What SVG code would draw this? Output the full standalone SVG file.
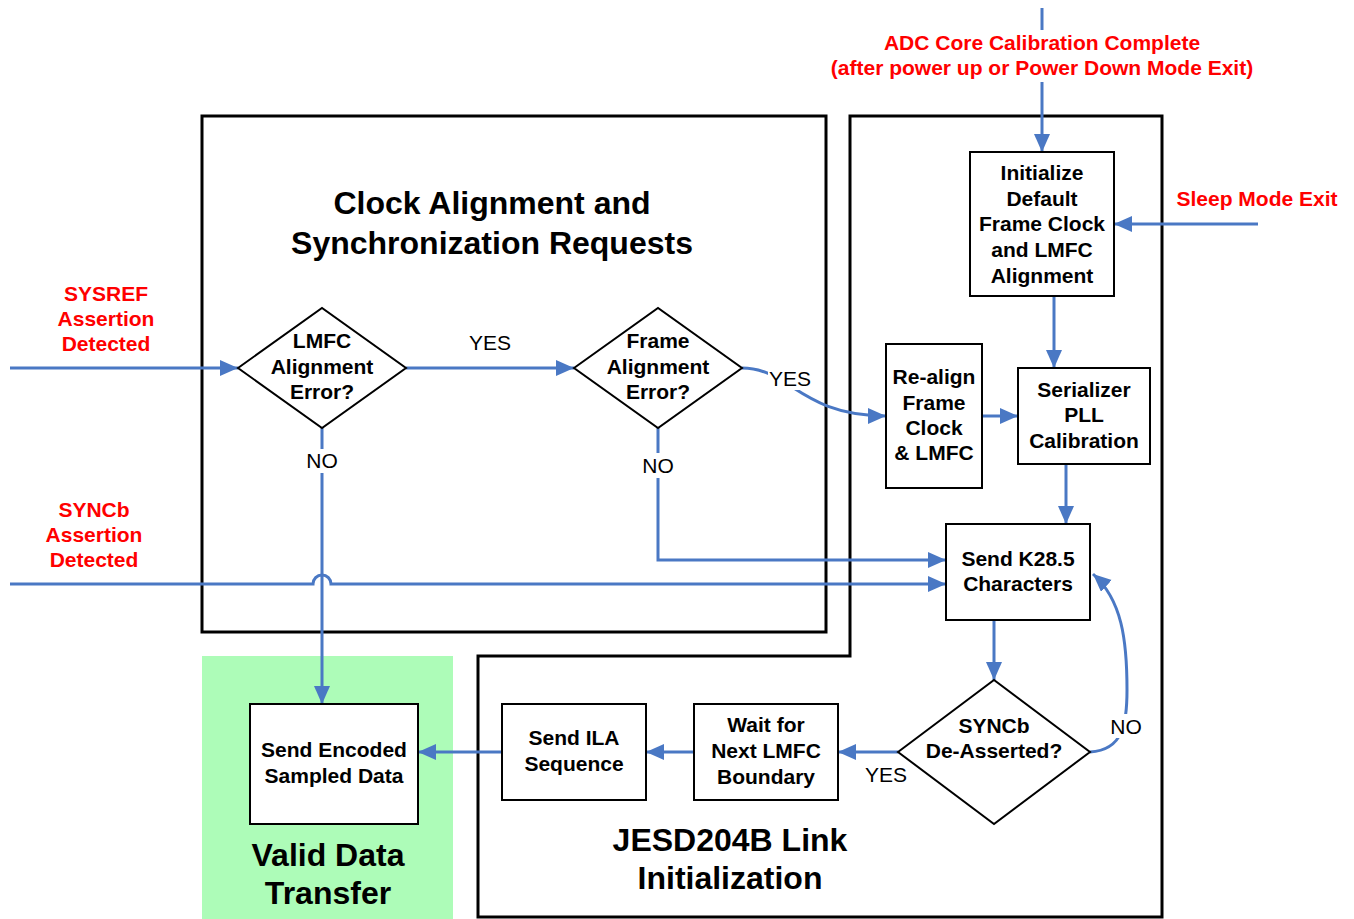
<svg xmlns="http://www.w3.org/2000/svg" width="1354" height="919" viewBox="0 0 1354 919">
<style>
.t{font-family:"Liberation Sans",Arial,sans-serif;font-weight:bold;font-size:21px;fill:#000;text-anchor:middle}
.r{font-family:"Liberation Sans",Arial,sans-serif;font-weight:bold;font-size:21px;fill:#ff0000;text-anchor:middle}
.h{font-family:"Liberation Sans",Arial,sans-serif;font-weight:bold;font-size:32px;fill:#000;text-anchor:middle}
.l{font-family:"Liberation Sans",Arial,sans-serif;font-size:21px;fill:#000;text-anchor:middle}
.box{fill:#fff;stroke:#000;stroke-width:2}
.big{fill:none;stroke:#000;stroke-width:3}
.c{fill:none;stroke:#4a78c4;stroke-width:3}
.ca{fill:none;stroke:#4a78c4;stroke-width:3;marker-end:url(#ah)}
</style>
<defs>
<marker id="ah" markerUnits="userSpaceOnUse" markerWidth="20" markerHeight="18" refX="18" refY="8" orient="auto">
<path d="M0,0 L18,8 L0,16 Z" fill="#4a78c4"/>
</marker>
</defs>
<rect width="1354" height="919" fill="#fff"/>
<g id="valid-data-area">
<rect x="202" y="656" width="251" height="263" fill="#adfcb8"/>
<text class="h" x="328" y="866">Valid Data</text>
<text class="h" x="328" y="904">Transfer</text>
</g>
<g id="clock-alignment-area">
<rect class="big" x="202" y="116" width="624" height="516"/>
<text class="h" x="492" y="214">Clock Alignment and</text>
<text class="h" x="492" y="254">Synchronization Requests</text>
</g>
<g id="jesd-area">
<path class="big" d="M850,116 H1162 V917 H478 V656 H850 Z"/>
<text class="h" x="730" y="851">JESD204B Link</text>
<text class="h" x="730" y="889">Initialization</text>
</g>
<g id="connectors">
<path class="ca" d="M10,368 H238"/>
<path class="ca" d="M406,368 H574"/>
<path class="ca" d="M322,428 V704"/>
<path class="ca" d="M658,428 V560 H946"/>
<path class="ca" d="M10,584 H313 A9,9 0 0 1 331,584 H946"/>
<path class="ca" d="M742,368 C790,368 800,416 886,416"/>
<path class="ca" d="M982,416 H1018"/>
<path class="ca" d="M1054,296 V368"/>
<path class="ca" d="M1066,464 V524"/>
<path class="c" d="M1042,8 V30"/>
<path class="ca" d="M1042,82 V152"/>
<path class="ca" d="M1258,224 H1114"/>
<path class="ca" d="M994,620 V680"/>
<path class="ca" d="M898,752 H838"/>
<path class="ca" d="M694,752 H646"/>
<path class="ca" d="M502,752 H418"/>
<path class="ca" d="M1090,752 C1124,750 1127,722 1127,690 C1127,640 1122,600 1093,574"/>
</g>
<g id="connector-labels">
<text class="l" x="490" y="350">YES</text>
<rect x="768" y="366" width="44" height="24" fill="#fff"/>
<text class="l" x="790" y="386">YES</text>
<rect x="304" y="449" width="36" height="24" fill="#fff"/>
<text class="l" x="322" y="468">NO</text>
<rect x="640" y="453" width="36" height="25" fill="#fff"/>
<text class="l" x="658" y="473">NO</text>
<text class="l" x="886" y="782">YES</text>
<rect x="1110" y="714" width="34" height="24" fill="#fff"/>
<text class="l" x="1126" y="734">NO</text>
</g>
<g id="inputs">
<text class="r" x="1042" y="50">ADC Core Calibration Complete</text>
<text class="r" x="1042" y="75">(after power up or Power Down Mode Exit)</text>
<text class="r" x="1257" y="206">Sleep Mode Exit</text>
<text class="r" x="106" y="301">SYSREF</text>
<text class="r" x="106" y="326">Assertion</text>
<text class="r" x="106" y="351">Detected</text>
<text class="r" x="94" y="517">SYNCb</text>
<text class="r" x="94" y="542">Assertion</text>
<text class="r" x="94" y="567">Detected</text>
</g>
<g id="initialize">
<rect class="box" x="970" y="152" width="144" height="144"/>
<text class="t" x="1042" y="180">Initialize</text>
<text class="t" x="1042" y="206">Default</text>
<text class="t" x="1042" y="231">Frame Clock</text>
<text class="t" x="1042" y="257">and LMFC</text>
<text class="t" x="1042" y="283">Alignment</text>
</g>
<g id="lmfc-decision">
<path class="box" d="M238,368 L322,308 L406,368 L322,428 Z" stroke-width="1.5"/>
<text class="t" x="322" y="348">LMFC</text>
<text class="t" x="322" y="374">Alignment</text>
<text class="t" x="322" y="399">Error?</text>
</g>
<g id="frame-decision">
<path class="box" d="M574,368 L658,308 L742,368 L658,428 Z" stroke-width="1.5"/>
<text class="t" x="658" y="348">Frame</text>
<text class="t" x="658" y="374">Alignment</text>
<text class="t" x="658" y="399">Error?</text>
</g>
<g id="realign">
<rect class="box" x="886" y="344" width="96" height="144"/>
<text class="t" x="934" y="384">Re-align</text>
<text class="t" x="934" y="410">Frame</text>
<text class="t" x="934" y="435">Clock</text>
<text class="t" x="934" y="460">&amp; LMFC</text>
</g>
<g id="serializer">
<rect class="box" x="1018" y="368" width="132" height="96"/>
<text class="t" x="1084" y="397">Serializer</text>
<text class="t" x="1084" y="422">PLL</text>
<text class="t" x="1084" y="448">Calibration</text>
</g>
<g id="send-k285">
<rect class="box" x="946" y="524" width="144" height="96"/>
<text class="t" x="1018" y="566">Send K28.5</text>
<text class="t" x="1018" y="591">Characters</text>
</g>
<g id="syncb-decision">
<path class="box" d="M898,752 L994,680 L1090,752 L994,824 Z" stroke-width="1.5"/>
<text class="t" x="994" y="733">SYNCb</text>
<text class="t" x="994" y="758">De-Asserted?</text>
</g>
<g id="wait-lmfc">
<rect class="box" x="694" y="704" width="144" height="96"/>
<text class="t" x="766" y="732">Wait for</text>
<text class="t" x="766" y="758">Next LMFC</text>
<text class="t" x="766" y="784">Boundary</text>
</g>
<g id="send-ila">
<rect class="box" x="502" y="704" width="144" height="96"/>
<text class="t" x="574" y="745">Send ILA</text>
<text class="t" x="574" y="771">Sequence</text>
</g>
<g id="send-encoded">
<rect class="box" x="250" y="704" width="168" height="120"/>
<text class="t" x="334" y="757">Send Encoded</text>
<text class="t" x="334" y="783">Sampled Data</text>
</g>
</svg>
